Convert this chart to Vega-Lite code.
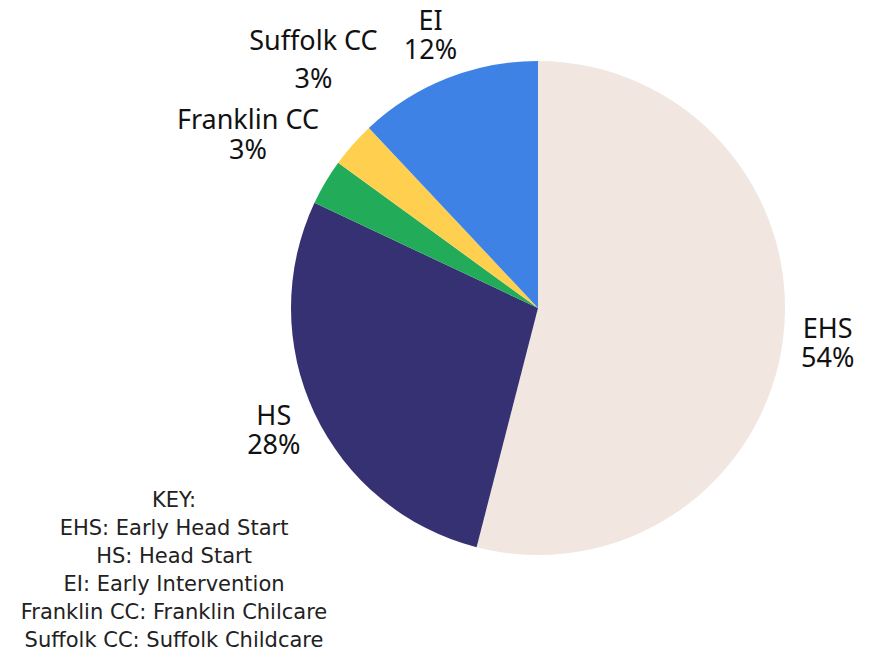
{
  "$schema": "https://vega.github.io/schema/vega-lite/v6.json",
  "autosize": {"type": "none"},
  "width": 494,
  "height": 494,
  "padding": {"left": 291, "top": 61, "right": 84, "bottom": 99},
  "background": "white",
  "config": {"view": {"stroke": null}},
  "title": {
    "text": ["KEY:", "EHS: Early Head Start", "HS: Head Start", "EI: Early Intervention", "Franklin CC: Franklin Chilcare", "Suffolk CC: Suffolk Childcare"],
    "orient": "bottom",
    "anchor": "start",
    "align": "center",
    "baseline": "top",
    "frame": "group",
    "dx": -117,
    "dy": -65,
    "offset": 0,
    "font": "DejaVu Sans",
    "fontSize": 21,
    "fontWeight": "normal",
    "lineHeight": 28,
    "color": "#222222"
  },
  "data": {
    "values": [
      {"program": "EHS", "pct": 54, "order": 1, "label": "EHS\n54%"},
      {"program": "HS", "pct": 28, "order": 2, "label": "HS\n28%"},
      {"program": "Franklin CC", "pct": 3, "order": 3, "label": "Franklin CC\n3%"},
      {"program": "Suffolk CC", "pct": 3, "order": 4, "label": "Suffolk CC\n3%"},
      {"program": "EI", "pct": 12, "order": 5, "label": "EI\n12%"}
    ]
  },
  "encoding": {
    "theta": {"field": "pct", "type": "quantitative", "stack": true},
    "order": {"field": "order", "type": "quantitative", "sort": "ascending"}
  },
  "layer": [
    {
      "mark": {"type": "arc", "stroke": null},
      "encoding": {
        "color": {
          "field": "program",
          "type": "nominal",
          "scale": {
            "domain": ["EHS", "HS", "Franklin CC", "Suffolk CC", "EI"],
            "range": ["#f1e6e0", "#353172", "#22ac5a", "#ffcf4f", "#3f82e6"]
          },
          "legend": null
        }
      }
    },
    {
      "mark": {"type": "text", "radius": 292, "dy": -15, "font": "Noto Sans", "fontSize": 27, "lineBreak": "\n", "lineHeight": 29, "align": "center", "baseline": "middle", "color": "#111111"},
      "encoding": {
        "text": {"condition": {"test": "datum.program === 'EHS' || datum.program === 'HS' || datum.program === 'EI'", "field": "label"}, "value": ""}
      }
    },
    {
      "mark": {"type": "text", "radius": 337, "dy": -15, "font": "Noto Sans", "fontSize": 27, "lineBreak": "\n", "lineHeight": 30, "align": "center", "baseline": "middle", "color": "#111111"},
      "encoding": {
        "text": {"condition": {"test": "datum.program === 'Franklin CC'", "field": "label"}, "value": ""}
      }
    },
    {
      "mark": {"type": "text", "radius": 334, "dx": 26, "dy": -45, "font": "Noto Sans", "fontSize": 27, "lineBreak": "\n", "lineHeight": 38, "align": "center", "baseline": "middle", "color": "#111111"},
      "encoding": {
        "text": {"condition": {"test": "datum.program === 'Suffolk CC'", "field": "label"}, "value": ""}
      }
    }
  ]
}
